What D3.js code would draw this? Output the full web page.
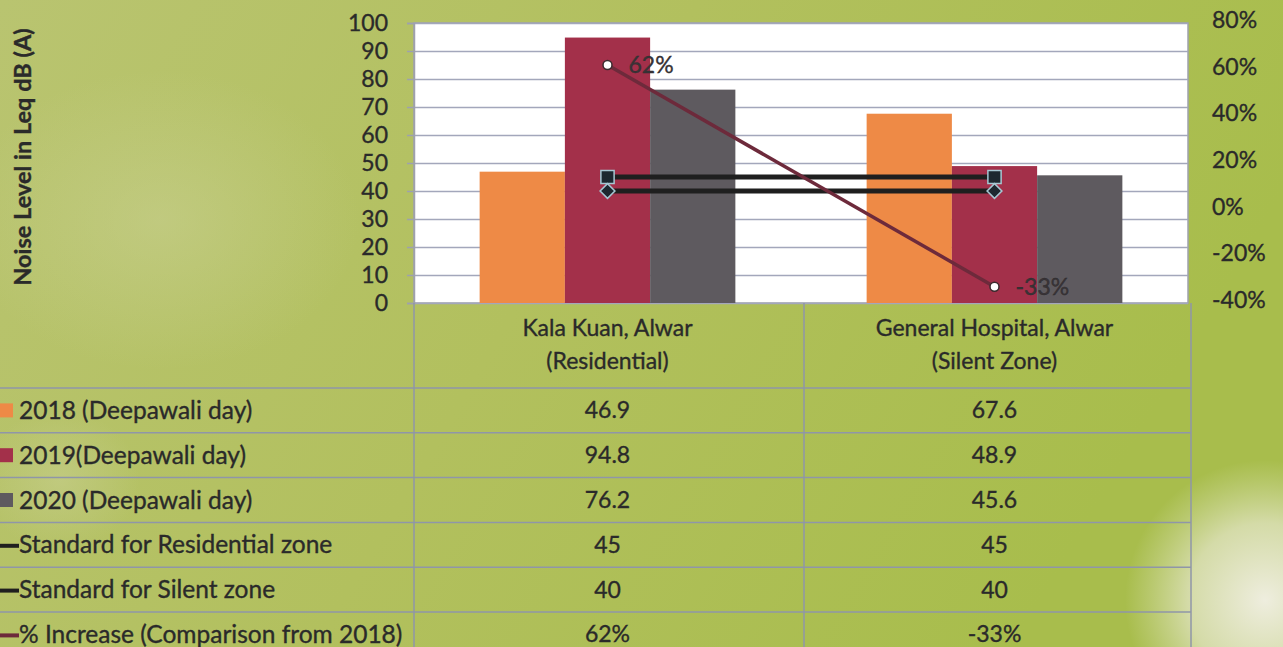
<!DOCTYPE html>
<html>
<head>
<meta charset="utf-8">
<script src="https://cdn.jsdelivr.net/npm/d3@7"></script>
<style>
  body { margin: 0; overflow: hidden; }
  svg { display: block; font-family: Lato, "Open Sans", sans-serif; }
  svg text { stroke: #2a2a2a; stroke-width: 0.35px; }
</style>
</head>
<body>
<svg id="chart"></svg>
<script>
// Data
const categories = ["Kala Kuan, Alwar|(Residential)", "General Hospital, Alwar|(Silent Zone)"];
const barSeries = ["2018 (Deepawali day)", "2019(Deepawali day)", "2020 (Deepawali day)"];
const values2018 = [46.9, 67.6];
const values2019 = [94.8, 48.9];
const values2020 = [76.2, 45.6];
const standardResidential = [45, 45];
const standardSilent = [40, 40];
const pctIncrease = [0.62, -0.33];
const leftTicks = [0, 10, 20, 30, 40, 50, 60, 70, 80, 90, 100];
const rightTicks = [-0.4, -0.2, 0, 0.2, 0.4, 0.6, 0.8];

const barColors = ["#ee8a46", "#a3304a", "#5e5a5f"];
const lineColor = "#6d2a3b";
const stdColor = "#1f1f1f";
const textColor = "#2a2a2a";
const gridColor = "#a3a7bb";

// plain hyphen for negatives, as in the original
const pct = d => d3.format(".0%")(d).replace("−", "-");

const width = 1283, height = 647;
const plot = { left: 414, right: 1188, top: 23, bottom: 303 };

const svg = d3.select("#chart").attr("width", width).attr("height", height);

// Background
const defs = svg.append("defs");
const bg = defs.append("linearGradient").attr("id", "bg").attr("x1", 0).attr("x2", 1).attr("y1", 0).attr("y2", 0.3);
bg.append("stop").attr("offset", 0).attr("stop-color", "#b9c470");
bg.append("stop").attr("offset", 0.5).attr("stop-color", "#b2c05e");
bg.append("stop").attr("offset", 1).attr("stop-color", "#a8bd4c");
const glow = defs.append("radialGradient").attr("id", "glow");
glow.append("stop").attr("offset", 0).attr("stop-color", "#f2f0e6").attr("stop-opacity", 0.95);
glow.append("stop").attr("offset", 0.55).attr("stop-color", "#ecebd9").attr("stop-opacity", 0.65);
glow.append("stop").attr("offset", 1).attr("stop-color", "#e4e8c6").attr("stop-opacity", 0);
const soft = defs.append("radialGradient").attr("id", "soft");
soft.append("stop").attr("offset", 0).attr("stop-color", "#cdd39a").attr("stop-opacity", 0.45);
soft.append("stop").attr("offset", 1).attr("stop-color", "#cdd39a").attr("stop-opacity", 0);

svg.append("rect").attr("width", width).attr("height", height).attr("fill", "url(#bg)");
svg.append("ellipse").attr("cx", 1265).attr("cy", 600).attr("rx", 140).attr("ry", 140).attr("fill", "url(#glow)");
svg.append("ellipse").attr("cx", 160).attr("cy", 220).attr("rx", 200).attr("ry", 150).attr("fill", "url(#soft)");
svg.append("ellipse").attr("cx", 60).attr("cy", 480).attr("rx", 80).attr("ry", 70).attr("fill", "url(#soft)");

// Scales
const x0 = d3.scaleBand().domain(categories).range([plot.left, plot.right]).padding(0);
const x1 = d3.scaleBand().domain(barSeries).range([0, x0.bandwidth()]).paddingInner(0).paddingOuter(0.77);
const y = d3.scaleLinear().domain([0, 100]).range([plot.bottom, plot.top]);
const yR = d3.scaleLinear().domain([-0.4, 0.8]).range([plot.bottom, plot.top]);

// Plot area
svg.append("rect")
  .attr("x", plot.left).attr("y", plot.top)
  .attr("width", plot.right - plot.left).attr("height", plot.bottom - plot.top)
  .attr("fill", "#ffffff").attr("stroke", "#9ea1ad").attr("stroke-width", 1.5);

// Gridlines
svg.append("g")
  .attr("transform", `translate(${plot.left},0)`)
  .call(d3.axisLeft(y).tickValues(leftTicks).tickSize(-(plot.right - plot.left)).tickFormat(""))
  .call(g => g.select(".domain").remove())
  .call(g => g.selectAll("line").attr("stroke", gridColor).attr("stroke-width", 1.5));

// Left axis
svg.append("g")
  .attr("transform", `translate(${plot.left},0)`)
  .call(d3.axisLeft(y).tickValues(leftTicks).tickSize(7).tickPadding(19))
  .call(g => g.select(".domain").attr("stroke", "#9ea1ad").attr("stroke-width", 1.5))
  .call(g => g.selectAll("line").attr("stroke", "#9ea1ad").attr("stroke-width", 1.5))
  .call(g => g.selectAll("text").attr("fill", textColor).attr("font-size", 23).attr("font-family", "Lato"));

// Right axis
svg.append("g")
  .attr("transform", `translate(${plot.right},0)`)
  .call(d3.axisRight(yR).tickValues(rightTicks).tickSize(0).tickPadding(24).tickFormat(pct))
  .call(g => g.select(".domain").remove())
  .call(g => g.selectAll("text").attr("fill", textColor).attr("font-size", 23).attr("font-family", "Lato")
    .attr("dy", "0.2em"));

// Axis title
svg.append("text")
  .attr("transform", "translate(31,157) rotate(-90)")
  .attr("text-anchor", "middle")
  .attr("font-size", 23.5).attr("font-weight", "bold").attr("fill", textColor)
  .text("Noise Level in Leq dB (A)");

// Bars
const barData = [values2018, values2019, values2020];
categories.forEach((cat, ci) => {
  svg.append("g").selectAll("rect")
    .data(barSeries)
    .join("rect")
    .attr("x", s => x0(cat) + x1(s))
    .attr("width", x1.bandwidth())
    .attr("y", (s, si) => y(barData[si][ci]))
    .attr("height", (s, si) => y(0) - y(barData[si][ci]))
    .attr("fill", (s, si) => barColors[si]);
});

const cx = (d, i) => x0(categories[i]) + x0.bandwidth() / 2;

// Standard lines
[[standardResidential, 0], [standardSilent, 45]].forEach(([vals, rot]) => {
  svg.append("path")
    .datum(vals)
    .attr("fill", "none").attr("stroke", stdColor).attr("stroke-width", 5)
    .attr("d", d3.line().x(cx).y(d => y(d)));
  svg.append("g").selectAll("path")
    .data(vals)
    .join("path")
    .attr("transform", (d, i) => `translate(${cx(d, i)},${y(d)}) rotate(${rot})`)
    .attr("d", d3.symbol().type(d3.symbolSquare).size(rot ? 110 : 175))
    .attr("fill", "#1d2830").attr("stroke", "#a6c7d3").attr("stroke-width", 1.5);
});

// % increase line
svg.append("path")
  .datum(pctIncrease)
  .attr("fill", "none").attr("stroke", lineColor).attr("stroke-width", 3.5)
  .attr("d", d3.line().x(cx).y(d => yR(d)));
svg.append("g").selectAll("circle")
  .data(pctIncrease)
  .join("circle")
  .attr("cx", cx).attr("cy", d => yR(d)).attr("r", 4.5)
  .attr("fill", "#ffffff").attr("stroke", "#3a2a2e").attr("stroke-width", 1.5);
svg.append("g").selectAll("text")
  .data(pctIncrease)
  .join("text")
  .attr("x", (d, i) => cx(d, i) + 21).attr("y", d => yR(d))
  .attr("dy", "0.35em")
  .attr("font-size", 23).attr("fill", "#3a3438")
  .text(pct);

// Data table
const rowTop = 388, rowH = 44.8;
const tableRight = 1191;
const colEdges = [plot.left, 804, tableRight];
const rows = [
  { label: barSeries[0], key: "rect", color: barColors[0], vals: values2018.map(String) },
  { label: barSeries[1], key: "rect", color: barColors[1], vals: values2019.map(String) },
  { label: barSeries[2], key: "rect", color: barColors[2], vals: values2020.map(String) },
  { label: "Standard for Residential zone", key: "line", color: stdColor, vals: standardResidential.map(String) },
  { label: "Standard for Silent zone", key: "line", color: stdColor, vals: standardSilent.map(String) },
  { label: "% Increase (Comparison from 2018)", key: "line", color: lineColor, vals: pctIncrease.map(pct) }
];

const table = svg.append("g");
table.selectAll("line.h")
  .data(d3.range(rows.length + 1))
  .join("line")
  .attr("class", "h")
  .attr("x1", 0).attr("x2", tableRight)
  .attr("y1", i => rowTop + i * rowH).attr("y2", i => rowTop + i * rowH)
  .attr("stroke", "#8f96a8").attr("stroke-width", 1.5);
table.selectAll("line.v")
  .data(colEdges)
  .join("line")
  .attr("class", "v")
  .attr("x1", d => d).attr("x2", d => d)
  .attr("y1", plot.bottom).attr("y2", height)
  .attr("stroke", "#8f96a8").attr("stroke-width", 1.5);

// Category headers
categories.forEach(cat => {
  const lines = cat.split("|");
  const t = table.append("text")
    .attr("text-anchor", "middle").attr("font-size", 23).attr("fill", textColor);
  lines.forEach((ln, li) => {
    t.append("tspan").attr("x", x0(cat) + x0.bandwidth() / 2).attr("y", 336 + li * 33).text(ln);
  });
});

rows.forEach((r, ri) => {
  const cy = rowTop + ri * rowH + rowH / 2;
  if (r.key === "rect") {
    table.append("rect").attr("x", 0).attr("y", cy - 7).attr("width", 13).attr("height", 14).attr("fill", r.color);
  } else {
    table.append("line").attr("x1", 0).attr("x2", 19).attr("y1", cy + 1).attr("y2", cy + 1)
      .attr("stroke", r.color).attr("stroke-width", 4);
  }
  table.append("text")
    .attr("x", 19).attr("y", cy).attr("dy", "0.35em")
    .attr("font-size", 24.5).attr("fill", textColor)
    .text(r.label);
  r.vals.forEach((v, ci) => {
    table.append("text")
      .attr("x", x0(categories[ci]) + x0.bandwidth() / 2).attr("y", cy).attr("dy", "0.35em")
      .attr("text-anchor", "middle").attr("font-size", 23).attr("fill", textColor)
      .text(v);
  });
});
</script>
</body>
</html>
